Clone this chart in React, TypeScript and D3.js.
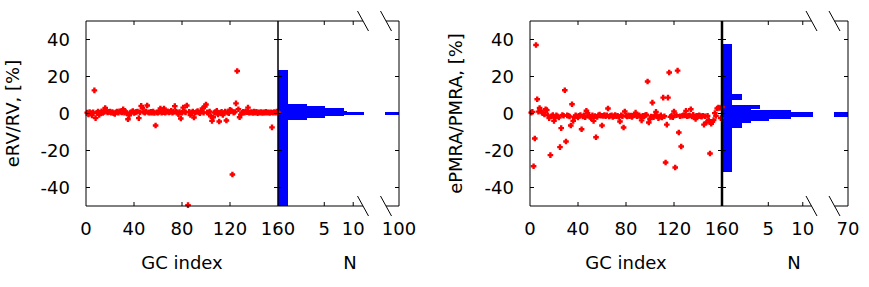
import React from 'react';
import * as d3 from 'd3';

// GC index runs 1..160, one value per cluster
const rvErr = [
  0.5, -0.5, 0.8, 0.3, -1.0, 0.6, 12.5, -2.5, 0.4, 1.0,
  -0.8, 0.5, 1.2, 0.3, 0.9, 3.0, 1.1, 0.6, 0.9, 1.0,
  0.4, 0.8, 0.2, -0.3, 0.7, 1.0, 0.5, 1.2, 0.9, 0.6,
  2.3, 0.4, 1.0, 0.2, -3.1, -1.0, 0.5, 0.8, 1.3, 0.3,
  0.6, 0.9, 1.1, -2.5, 0.7, 4.1, 3.0, 0.8, 0.5, 1.0,
  4.3, 0.6, 0.4, 0.9, 0.5, 1.0, 0.3, -6.5, 0.6, 0.5,
  0.8, 2.7, 0.4, 0.7, 2.7, 0.5, 0.9, 1.2, 0.6, 0.8,
  1.5, 0.4, 0.9, 4.0, 1.0, 0.6, -0.4, 0.8, -2.7, 0.5,
  3.2, 1.0, 0.6, 4.3, -49.5, 0.9, -0.8, 0.5, 1.0, -2.2,
  0.4, 0.8, 1.3, 0.6, 0.2, 1.0, 2.7, 0.5, 3.8, 4.9,
  0.6, 0.3, 1.1, -1.5, -4.0, -2.0, 0.5, 0.8, 1.4, -0.5,
  -4.3, 0.4, 0.9, -0.8, 0.3, 1.0, -3.8, 0.6, 0.2, 2.0,
  1.6, -33.0, 0.5, 0.8, 5.5, 23.0, 2.3, -2.0, -0.6, 0.4,
  0.9, 0.5, 1.0, 0.7, 3.2, 0.4, 0.6, 0.8, 0.3, 1.0,
  0.5, 0.9, 0.2, 0.7, 0.4, 0.8, 0.3, 0.6, 0.5, 0.9,
  0.4, 0.7, 0.3, 0.6, -7.5, 0.5, 0.8, 0.4, 1.0, 0.6,
];

const pmraErr = [
  0.5, 0.9, -28.5, -13.5, 37.0, 7.7, 1.0, 3.0, 1.5, 0.5,
  0.2, -0.5, 2.3, 1.8, -1.0, -2.5, -22.5, -1.5, -0.8, -4.0,
  -2.0, -1.0, -1.5, -2.2, -18.2, -7.9, -0.8, -1.2, 12.6, -15.1,
  -1.0, -1.2, -1.6, -6.5, 5.0, -4.0, -2.0, -1.0, -1.5, -2.2,
  -1.3, -0.8, -8.5, -1.6, -1.0, -2.0, 1.5, 0.2, -1.2, -1.8,
  -2.5, -1.0, -4.0, -1.4, -12.8, -1.8, -1.0, -0.6, -1.2, -6.5,
  -1.3, -0.8, -1.5, -1.0, 2.7, -1.6, -1.2, -1.0, -1.8, -1.4,
  -0.9, -1.5, -1.2, -1.8, -4.3, -1.0, -1.5, -7.6, 1.1, -1.2,
  -1.6, -1.0, -1.4, -1.1, -1.8, -1.2, -0.9, 0.5, -1.5, -1.2,
  -1.0, -1.6, -3.7, -1.3, -1.5, -1.0, -0.7, 17.3, -4.9, -3.0,
  -1.6, 5.9, -2.0, -1.0, 0.9, -1.4, -2.5, -1.8, -1.0, -2.2,
  8.6, -1.5, -26.5, -6.0, 8.6, 22.2, -1.8, -1.3, -2.0, 1.1,
  -29.2, -0.9, 23.2, -10.3, -1.5, -17.8, -1.2, -0.8, -1.0, 1.4,
  -1.5, -1.2, -1.0, 2.3, -1.6, -0.7, -1.8, -3.0, -1.2, -1.5,
  -1.0, -1.4, -1.7, -1.2, -6.0, -1.5, -4.9, -1.3, -3.6, -21.6,
  -5.5, -4.5, -3.6, 0.2, -1.3, 2.7, 3.2, 3.0, -2.5, 3.5,
];

// histogram bins (value range in %, N on a log axis)
const rvBinLo = [-50, -3.6, -2.7, -1.6, -0.9, 0.9, 1.5, 2.9, 4.1, 5.0];
const rvBinHi = [-3.6, -2.7, -1.6, -0.9, 0.9, 1.5, 2.9, 4.1, 5.0, 23.5];
const rvBinN = [2.1, 3.3, 5.1, 8.0, 100, 8.6, 8.0, 5.1, 3.3, 2.1];

const pmBinLo = [-31.5, -7.8, -5.2, -4.2, -3.1, -1.8, 0.7, 1.8, 2.3, 4.5, 7.4, 10.4];
const pmBinHi = [-7.8, -5.2, -4.2, -3.1, -1.8, 0.7, 1.8, 2.3, 4.5, 7.4, 10.4, 37.5];
const pmBinN = [2.4, 2.93, 3.51, 5.08, 7.9, 70, 7.9, 3.51, 4.24, 2.4, 2.93, 2.4];

const gcTicks = [0, 40, 80, 120, 160];
const yTicks = [-40, -20, 0, 20, 40];
const nTicks = [5, 10];

const FONT = "'DejaVu Sans', sans-serif";
const FS = 18;
const TOP = 21;
const BOTTOM = 206;

interface PanelProps {
  values: number[];
  binLo: number[];
  binHi: number[];
  binN: number[];
  sx0: number; // scatter left
  sx1: number; // scatter right / hist left
  hBreak: number; // end of near part
  hFar: number; // start of far part
  hEnd: number; // hist right edge
  logMin: number;
  logMax: number;
  farMin: number;
  farMax: number;
  yTitle: string;
  titleX: number;
  nTitleX: number;
  divider: number;
}

const Panel: React.FC<PanelProps> = (p) => {
  const x = d3.scaleLinear().domain([0, 160]).range([p.sx0, p.sx1]);
  const y = d3.scaleLinear().domain([-50, 50]).range([BOTTOM, TOP]);
  const hx = d3.scaleLog().domain([p.logMin, p.logMax]).range([p.sx1, p.hBreak]).clamp(true);
  const hf = d3.scaleLinear().domain([p.farMin, p.farMax]).range([p.hFar, p.hEnd]).clamp(true);
  const tick = 4;
  const slash = (cx: number, cy: number) => (
    <line x1={cx - 5.5} y1={cy - 10} x2={cx + 5.5} y2={cy + 10} stroke="#000" strokeWidth={1} />
  );
  const breakL = p.hBreak - 1;
  const breakR = p.hFar + 1;

  return (
    <g fontFamily={FONT} fontSize={FS} fill="#000">
      {/* histogram bars */}
      <g fill="#0000ff" shapeRendering="crispEdges">
        {p.binN.map((n, i) => (
          <g key={i}>
            <rect x={p.sx1} y={y(p.binHi[i])} width={hx(n) - p.sx1} height={y(p.binLo[i]) - y(p.binHi[i])} />
            {n > p.farMin && (
              <rect x={p.hFar} y={y(p.binHi[i])} width={hf(n) - p.hFar} height={y(p.binLo[i]) - y(p.binHi[i])} />
            )}
          </g>
        ))}
      </g>

      {/* scatter points */}
      <g stroke="#ff0000" strokeWidth={2.4}>
        {p.values.map((v, i) => {
          const cx = x(i + 1);
          const cy = y(v);
          return <path key={i} d={`M${cx - 2.8},${cy}h5.6M${cx},${cy - 2.8}v5.6`} />;
        })}
      </g>

      {/* frames */}
      <g stroke="#000" strokeWidth={1} fill="none">
        <line x1={p.sx0} y1={TOP} x2={p.sx1} y2={TOP} />
        <line x1={p.sx0} y1={BOTTOM} x2={p.sx1} y2={BOTTOM} />
        <line x1={p.sx0} y1={TOP} x2={p.sx0} y2={BOTTOM} />
        <line x1={p.sx1} y1={TOP} x2={breakL} y2={TOP} />
        <line x1={p.sx1} y1={BOTTOM} x2={breakL} y2={BOTTOM} />
        <line x1={breakR} y1={TOP} x2={p.hEnd} y2={TOP} />
        <line x1={breakR} y1={BOTTOM} x2={p.hEnd} y2={BOTTOM} />
        <line x1={p.hEnd} y1={TOP} x2={p.hEnd} y2={BOTTOM} />
        <line x1={p.sx1} y1={TOP} x2={p.sx1} y2={BOTTOM} strokeWidth={p.divider} />

        {yTicks.map((t) => (
          <g key={t}>
            <line x1={p.sx0} y1={y(t)} x2={p.sx0 + tick} y2={y(t)} />
            <line x1={p.sx1 - tick} y1={y(t)} x2={p.sx1 + tick} y2={y(t)} />
            <line x1={p.hEnd - tick} y1={y(t)} x2={p.hEnd} y2={y(t)} />
          </g>
        ))}
        {gcTicks.slice(1, -1).map((t) => (
          <g key={t}>
            <line x1={x(t)} y1={BOTTOM} x2={x(t)} y2={BOTTOM - tick} />
            <line x1={x(t)} y1={TOP} x2={x(t)} y2={TOP + tick} />
          </g>
        ))}
        {nTicks.map((t) => (
          <g key={t}>
            <line x1={hx(t)} y1={BOTTOM} x2={hx(t)} y2={BOTTOM - tick} />
            <line x1={hx(t)} y1={TOP} x2={hx(t)} y2={TOP + tick} />
          </g>
        ))}
      </g>

      {/* axis break marks */}
      {slash(breakL, TOP)}
      {slash(breakR, TOP)}
      {slash(breakL, BOTTOM)}
      {slash(breakR, BOTTOM)}

      {/* tick labels */}
      {yTicks.map((t) => (
        <text key={t} x={p.sx0 - 16} y={y(t) + 6.5} textAnchor="end">{t}</text>
      ))}
      {gcTicks.map((t) => (
        <text key={t} x={x(t)} y={235} textAnchor="middle">{t}</text>
      ))}
      {nTicks.map((t) => (
        <text key={t} x={hx(t)} y={235} textAnchor="middle">{t}</text>
      ))}
      <text x={p.hEnd} y={235} textAnchor="middle">{p.farMax}</text>

      {/* axis titles */}
      <text x={(p.sx0 + p.sx1) / 2} y={269} textAnchor="middle">GC index</text>
      <text x={p.nTitleX} y={269} textAnchor="middle">N</text>
      <text
        transform={`translate(${p.titleX},${(TOP + BOTTOM) / 2}) rotate(-90)`}
        textAnchor="middle"
      >
        {p.yTitle}
      </text>
    </g>
  );
};

export default function App() {
  return (
    <svg
      width={869}
      height={287}
      style={{ position: 'absolute', left: 0, top: 0, background: '#fff' }}
    >
      <Panel
        values={rvErr}
        binLo={rvBinLo}
        binHi={rvBinHi}
        binN={rvBinN}
        sx0={86}
        sx1={278}
        hBreak={364}
        hFar={385}
        hEnd={399}
        logMin={1.65}
        logMax={12.95}
        farMin={80}
        farMax={100}
        yTitle="eRV/RV, [%]"
        titleX={18.5}
        nTitleX={350}
        divider={1.5}
      />
      <Panel
        values={pmraErr}
        binLo={pmBinLo}
        binHi={pmBinHi}
        binN={pmBinN}
        sx0={530}
        sx1={722}
        hBreak={812.5}
        hFar={833.5}
        hEnd={848}
        logMin={1.97}
        logMax={12.16}
        farMin={50}
        farMax={70}
        yTitle="ePMRA/PMRA, [%]"
        titleX={462}
        nTitleX={794}
        divider={2.5}
      />
    </svg>
  );
}
